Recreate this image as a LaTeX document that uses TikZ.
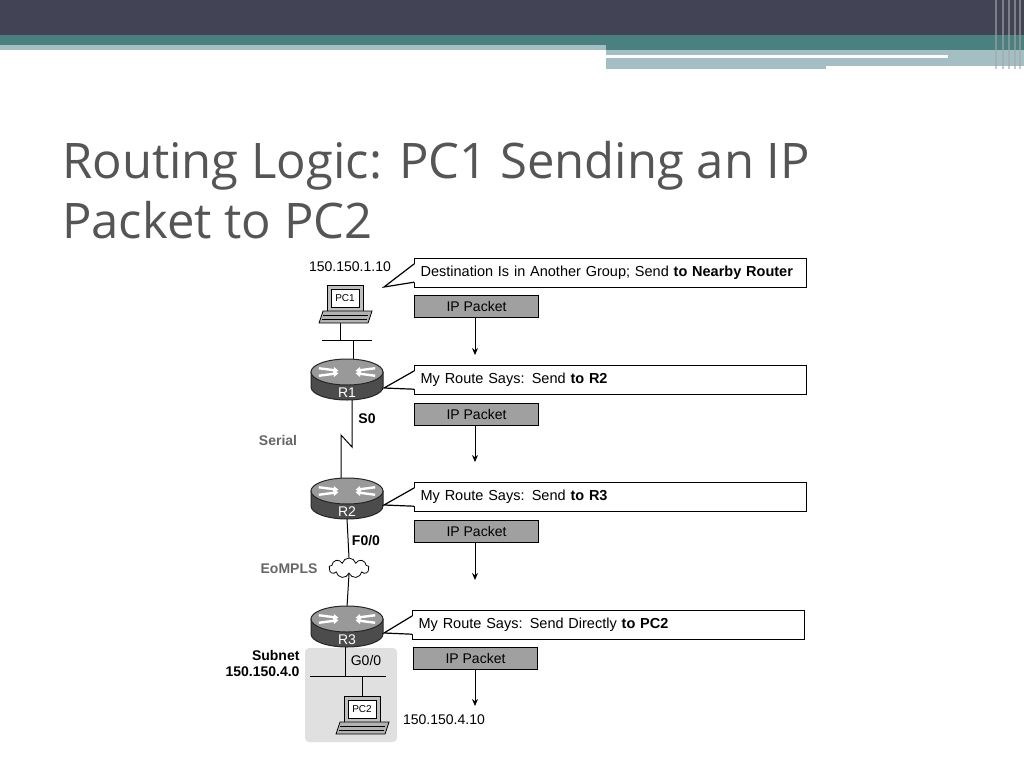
\documentclass[tikz,border=0pt]{standalone}
\usepackage{fontspec}
\setmainfont{Liberation Sans}
\newfontfamily\titlefont{Open Sans}
\usetikzlibrary{shapes.symbols,arrows.meta}
\definecolor{barDark}{HTML}{434356}
\definecolor{barTeal}{HTML}{4A8080}
\definecolor{barLight}{HTML}{A3BFC3}
\definecolor{titleGray}{HTML}{555555}
\definecolor{boxGray}{HTML}{A0A0A0}
\tikzset{
  callout/.style={draw, line width=1.2pt, minimum width=392, minimum height=29, anchor=north west, inner xsep=6, font=\fontsize{14.5}{16}\selectfont, align=left, text width=380},
  packet/.style={draw, line width=1pt, fill=boxGray, minimum width=124, minimum height=22, anchor=north west, font=\fontsize{14}{16}\selectfont},
  lbl/.style={font=\fontsize{14}{16}\selectfont},
  flow/.style={-{Stealth[length=7,width=6]}, line width=0.9pt},
}
% router icon at coordinate
\newcommand\routerIcon[2]{%
  \begin{scope}[shift={(#1)}]
    \draw[fill=black!70, draw=black!85, line width=1pt] (-36,0) -- (-36,15) arc[start angle=180,end angle=0,x radius=36,y radius=13] -- (36,0) -- cycle;
    \draw[fill=black!40, draw=black!85, line width=1pt] (0,0) ellipse[x radius=36, y radius=13];
    \foreach \a in {20,160,200,340}
      \draw[white, line width=2.4pt, -{Triangle[length=5,width=6]}] (\a:{30} and {11}) -- (\a:{9} and {3.5});
    \node[white, font=\fontsize{14}{16}\selectfont] at (0,21) {#2};
  \end{scope}}
% pc icon at coordinate
\newcommand\pcIcon[2]{%
  \begin{scope}[shift={(#1)}]
    \draw[fill=black!25, line width=0.8pt] (-18,-18) rectangle (18,8);
    \draw[fill=white, line width=0.6pt] (-14,-14) rectangle (14,4);
    \node[font=\fontsize{10}{11}\selectfont] at (0,-5) {#2};
    \draw[fill=black!30, line width=0.8pt] (-22,8) -- (27,8) -- (23,20) -- (-26,20) -- cycle;
    \draw[line width=0.6pt] (-22,12) -- (23,12) (-23,16) -- (22,16);
  \end{scope}}
\begin{document}
\begin{tikzpicture}[x=1pt,y=-1pt]
\useasboundingbox (0,0) rectangle (1024,768);
% header bars
\fill[barDark] (0,0) rectangle (1024,35);
\fill[barTeal] (0,35) rectangle (1024,50);
\fill[barLight] (0,45) rectangle (606,50);
\fill[barLight] (606,50) rectangle (1024,66);
\fill[barLight] (606,66) rectangle (826,69);
\fill[white] (606,55) rectangle (948,58);
\foreach \x in {995,1002,1008,1014,1019}
  \fill[black!35, opacity=0.6] (\x,0) rectangle ++(2,69);
% title
\node[anchor=base west, text=titleGray, font=\titlefont\fontsize{49}{60}\selectfont, inner sep=0] (title) at (62,178) {Routing Logic: PC1 Sending an IP};
\node[anchor=base west, text=titleGray, font=\titlefont\fontsize{49}{60}\selectfont, inner sep=0] (title2) at (62,238) {Packet to PC2};
% subnet shading
\fill[black!12, rounded corners=4] (305,648) rectangle (397,742);
% devices
\coordinate (pc1) at (345,303);
\coordinate (r1) at (347,372);
\coordinate (r2) at (347,491);
\coordinate (r3) at (347,619);
\coordinate (pc2) at (362,714);
\node[shape=cloud, draw, cloud puffs=9, aspect=2.2, minimum width=40, minimum height=20, line width=0.8pt, fill=white] (wan) at (349,568) {};
% links
\draw[line width=1pt] (322,340) -- (372,340);
\draw[line width=1pt] (340,323) -- (340,340);
\draw[line width=1pt] (353,340) -- (353,360);
\draw[line width=1pt] (352,400) -- (352,447) -- (341,435) -- (341,479);
\draw[line width=1pt] (347,519) -- (wan.north);
\draw[line width=1pt] (wan.south) -- (347,607);
\draw[line width=1pt] (310,676) -- (386,676);
\draw[line width=1pt] (345,645) -- (345,676);
\draw[line width=1pt] (362,676) -- (362,696);
\routerIcon{r1}{R1}
\routerIcon{r2}{R2}
\routerIcon{r3}{R3}
\pcIcon{pc1}{PC1}
\pcIcon{pc2}{PC2}
% labels
\node[lbl] (ip1) at (350,267) {150.150.1.10};
\node[lbl, font=\bfseries\fontsize{14}{16}\selectfont] (s0) at (367,419) {S0};
\node[lbl, text=black!60, font=\bfseries\fontsize{14}{16}\selectfont] (serial) at (278,440) {Serial};
\node[lbl, font=\bfseries\fontsize{14}{16}\selectfont] (f00) at (366,541) {F0/0};
\node[lbl, text=black!60, font=\bfseries\fontsize{14}{16}\selectfont] (eompls) at (289,569) {EoMPLS};
\node[lbl, anchor=east, align=right, font=\bfseries\fontsize{14}{16}\selectfont] (subnet) at (303,663) {Subnet\\150.150.4.0};
\node[lbl] (g00) at (366,660) {G0/0};
\node[lbl] (ip2) at (444,720) {150.150.4.10};
% callouts
\node[callout] (c1) at (414,258) {Destination Is in Another Group; Send \textbf{to Nearby Router}};
\node[callout] (c2) at (414,365) {My Route Says: Send \textbf{to R2}};
\node[callout] (c3) at (414,482) {My Route Says: Send \textbf{to R3}};
\node[callout] (c4) at (412,610) {My Route Says: Send Directly \textbf{to PC2}};
\foreach \c/\tx/\ty in {c1/384/287, c2/384/388, c3/384/505, c4/384/633}{
  \fill[white] ([xshift=1,yshift=-6]\c.north west) -- (\tx,\ty) -- ([xshift=1,yshift=6]\c.south west) -- cycle;
  \draw[line width=1.2pt] ([yshift=-6]\c.north west) -- (\tx,\ty) -- ([yshift=6]\c.south west);
}
% packets
\node[packet] (p1) at (414,295) {IP Packet};
\node[packet] (p2) at (414,403) {IP Packet};
\node[packet] (p3) at (414,520) {IP Packet};
\node[packet] (p4) at (413,647) {IP Packet};
\coordinate (e1) at (475,355);
\coordinate (e2) at (475,462);
\coordinate (e3) at (475,580);
\coordinate (e4) at (475,706);
\foreach \i in {1,2,3,4}
  \draw[flow] (p\i.south -| e\i) -- (e\i);
\end{tikzpicture}
\end{document}
